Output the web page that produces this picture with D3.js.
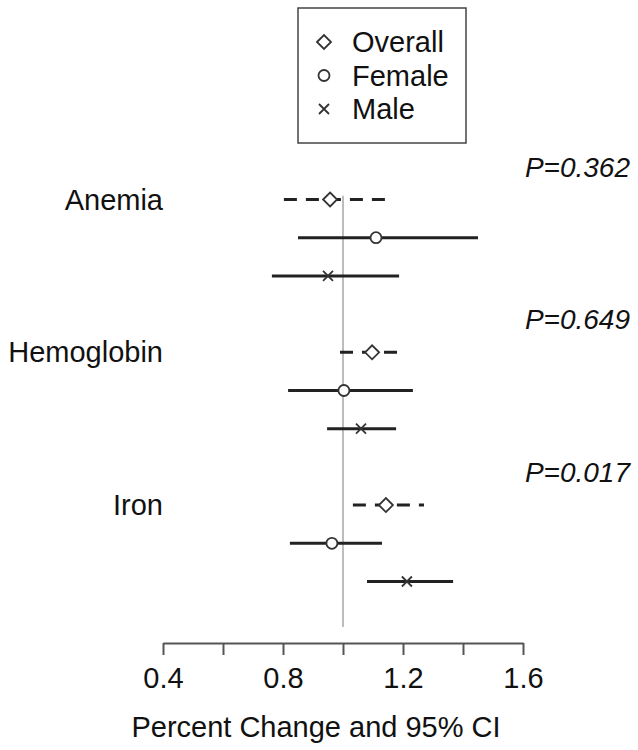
<!DOCTYPE html>
<html lang="en">
  <head>
    <meta charset="UTF-8" />
    <script src="https://cdn.jsdelivr.net/npm/d3@7"></script>
    <title>Forest plot</title>
    <style>
      body { margin: 0; background: white; }
      text { font-family: "Liberation Sans", Arial, sans-serif; fill: #111; }
    </style>
  </head>
  <body>
    <script>
      // ---- data ----
      const outcomes = ["Anemia", "Hemoglobin", "Iron"];
      const pValues = ["P=0.362", "P=0.649", "P=0.017"];
      const groups = ["Overall", "Female", "Male"];
      // estimate, lower, upper per outcome, rows in order Overall / Female / Male
      const estimates = [
        [0.957, 1.11, 0.95],
        [1.097, 1.003, 1.06],
        [1.143, 0.963, 1.213],
      ];
      const lowers = [
        [0.803, 0.85, 0.763],
        [0.99, 0.817, 0.947],
        [1.033, 0.823, 1.08],
      ];
      const uppers = [
        [1.15, 1.45, 1.187],
        [1.197, 1.233, 1.177],
        [1.27, 1.13, 1.367],
      ];
      const xTicks = [0.4, 0.6, 0.8, 1.0, 1.2, 1.4, 1.6];
      const xTickLabels = ["0.4", "", "0.8", "", "1.2", "", "1.6"];
      const axisTitle = "Percent Change and 95% CI";

      // ---- layout ----
      const W = 638, H = 750;
      const svg = d3.select("body").append("svg")
        .attr("width", W).attr("height", H);

      const x = d3.scaleLinear().domain([0.4, 1.6]).range([163, 523]);
      // row index: outcome i, group j -> 4*i + j
      const y = d3.scaleLinear().domain([0, 10]).range([199.5, 581.5]);

      const rows = [];
      outcomes.forEach((o, i) => {
        groups.forEach((g, j) => {
          rows.push({ outcome: o, group: g, j: j, row: 4 * i + j,
            est: estimates[i][j], lo: lowers[i][j], hi: uppers[i][j] });
        });
      });

      // reference line at 1
      svg.append("line")
        .attr("x1", x(1)).attr("x2", x(1))
        .attr("y1", y(-0.1)).attr("y2", 627)
        .attr("stroke", "#999").attr("stroke-width", 1.3);

      // CI lines
      svg.selectAll("line.ci").data(rows).enter().append("line")
        .attr("class", "ci")
        .attr("x1", d => x(d.lo)).attr("x2", d => x(d.hi))
        .attr("y1", d => y(d.row)).attr("y2", d => y(d.row))
        .attr("stroke", "#222").attr("stroke-width", 3)
        .attr("stroke-dasharray", d => d.j === 0 ? "13,9" : null);

      // markers
      function drawSymbol(sel, j, cx, cy) {
        const g = sel.append("g").attr("transform", `translate(${cx},${cy})`);
        if (j === 0) {
          g.append("path").attr("d", "M-7,0L0,-7L7,0L0,7Z")
            .attr("fill", "white").attr("stroke", "#333").attr("stroke-width", 1.8);
        } else if (j === 1) {
          g.append("circle").attr("r", 5.5)
            .attr("fill", "white").attr("stroke", "#333").attr("stroke-width", 1.8);
        } else {
          g.append("path").attr("d", "M-5,-5L5,5M-5,5L5,-5")
            .attr("fill", "none").attr("stroke", "#333").attr("stroke-width", 1.8);
        }
      }
      rows.forEach(d => drawSymbol(svg, d.j, x(d.est), y(d.row)));

      // outcome labels and P values
      outcomes.forEach((o, i) => {
        svg.append("text")
          .attr("x", x(0.4)).attr("y", y(4 * i) + 10)
          .attr("text-anchor", "end").attr("font-size", 29)
          .text(o);
        svg.append("text")
          .attr("x", 630).attr("y", y(4 * i) - 23)
          .attr("text-anchor", "end").attr("font-size", 28)
          .attr("font-style", "italic")
          .text(pValues[i]);
      });

      // x axis
      const axis = d3.axisBottom(x).tickValues(xTicks)
        .tickSize(12).tickSizeOuter(0)
        .tickFormat((d, i) => xTickLabels[i]);
      const gx = svg.append("g").attr("transform", "translate(0,643)").call(axis);
      gx.select(".domain").attr("stroke", "#555").attr("stroke-width", 2);
      gx.selectAll(".tick line").attr("stroke", "#555").attr("stroke-width", 2);
      gx.selectAll(".tick text")
        .attr("font-size", 29).attr("font-family", "Liberation Sans, Arial, sans-serif")
        .attr("fill", "#111").attr("dy", 0).attr("y", 45);

      svg.append("text")
        .attr("x", 316).attr("y", 737)
        .attr("text-anchor", "middle").attr("font-size", 29)
        .text(axisTitle);

      // legend
      const legend = svg.append("g");
      legend.append("rect")
        .attr("x", 298).attr("y", 8).attr("width", 168).attr("height", 135)
        .attr("fill", "white").attr("stroke", "#444").attr("stroke-width", 1.5);
      groups.forEach((g, j) => {
        const cy = 42 + j * 33.5;
        drawSymbol(legend, j, 324, cy);
        legend.append("text")
          .attr("x", 352).attr("y", cy + 10)
          .attr("font-size", 29).text(g);
      });
    </script>
  </body>
</html>
